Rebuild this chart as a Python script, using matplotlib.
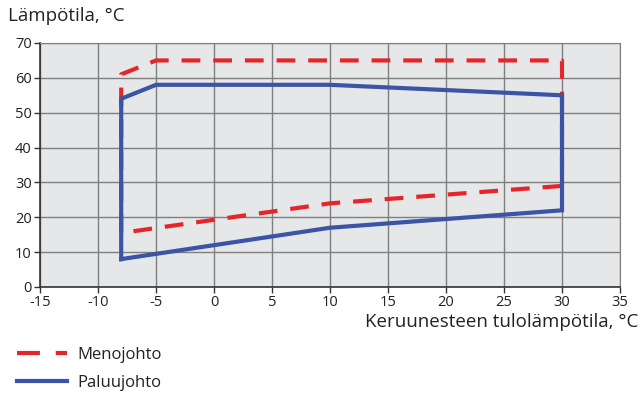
import matplotlib
matplotlib.use("Agg")
import matplotlib.pyplot as plt
from matplotlib.lines import Line2D

plt.rcParams['font.family'] = ['Open Sans', 'DejaVu Sans']

# Menojohto (supply), dashed red
meno_x = [-8, -8, -5, 30, 30, 10, -8]
meno_y = [15.5, 61, 65, 65, 29, 24, 15.5]
# Paluujohto (return), solid blue
paluu_x = [-8, -8, -5, 10, 30, 30, 10, -8]
paluu_y = [8, 54, 58, 58, 55, 22, 17, 8]

x_ticks = list(range(-15, 36, 5))
y_ticks = list(range(0, 71, 10))

RED = "#e6252b"
BLUE = "#3b54a5"
LW = 3.0
DASH = (4.5, 3.1)

fig = plt.figure(figsize=(6.43, 3.94), dpi=100)
ax = fig.add_axes([40 / 643, 1 - 287 / 394, 580 / 643, 244 / 394])
ax.set_facecolor("#e6e7e9")

ax.plot(meno_x, meno_y, color=RED, linewidth=LW, dashes=DASH)
ax.plot(paluu_x, paluu_y, color=BLUE, linewidth=LW, solid_joinstyle="miter")

ax.set_xlim(-15, 35)
ax.set_ylim(0, 70)
ax.set_xticks(x_ticks)
ax.set_yticks(y_ticks)
ax.set_xticklabels([str(v) for v in x_ticks])
ax.grid(True, color="#7f7f7f", linewidth=1.0)
ax.set_axisbelow(True)
for s in ["top", "right"]:
    ax.spines[s].set_color("#7f7f7f")
for s in ["left", "bottom"]:
    ax.spines[s].set_color("#333333")
    ax.spines[s].set_linewidth(1.2)
ax.tick_params(axis="both", labelsize=10.5, length=4, width=1, color="#333333",
               pad=2, labelcolor="#222222")

fig.text(8 / 643, 1 - 16 / 394, "Lämpötila, °C", fontsize=13.5, va="center",
         ha="left", color="#222222")
fig.text(638 / 643, 1 - 322 / 394, "Keruunesteen tulolämpötila, °C",
         fontsize=13.5, va="center", ha="right", color="#222222")

handles = [Line2D([], [], color=RED, linewidth=LW, dashes=(5.5, 3.8)),
           Line2D([], [], color=BLUE, linewidth=LW)]
fig.legend(handles, ["Menojohto", "Paluujohto"], loc="upper left",
           bbox_to_anchor=(17 / 643, 1 - 347 / 394), frameon=False,
           borderpad=0, borderaxespad=0,
           fontsize=12, handlelength=3.0, handletextpad=0.6, labelspacing=0.7,
           labelcolor="#222222")

fig.savefig("out.png", dpi=100)
